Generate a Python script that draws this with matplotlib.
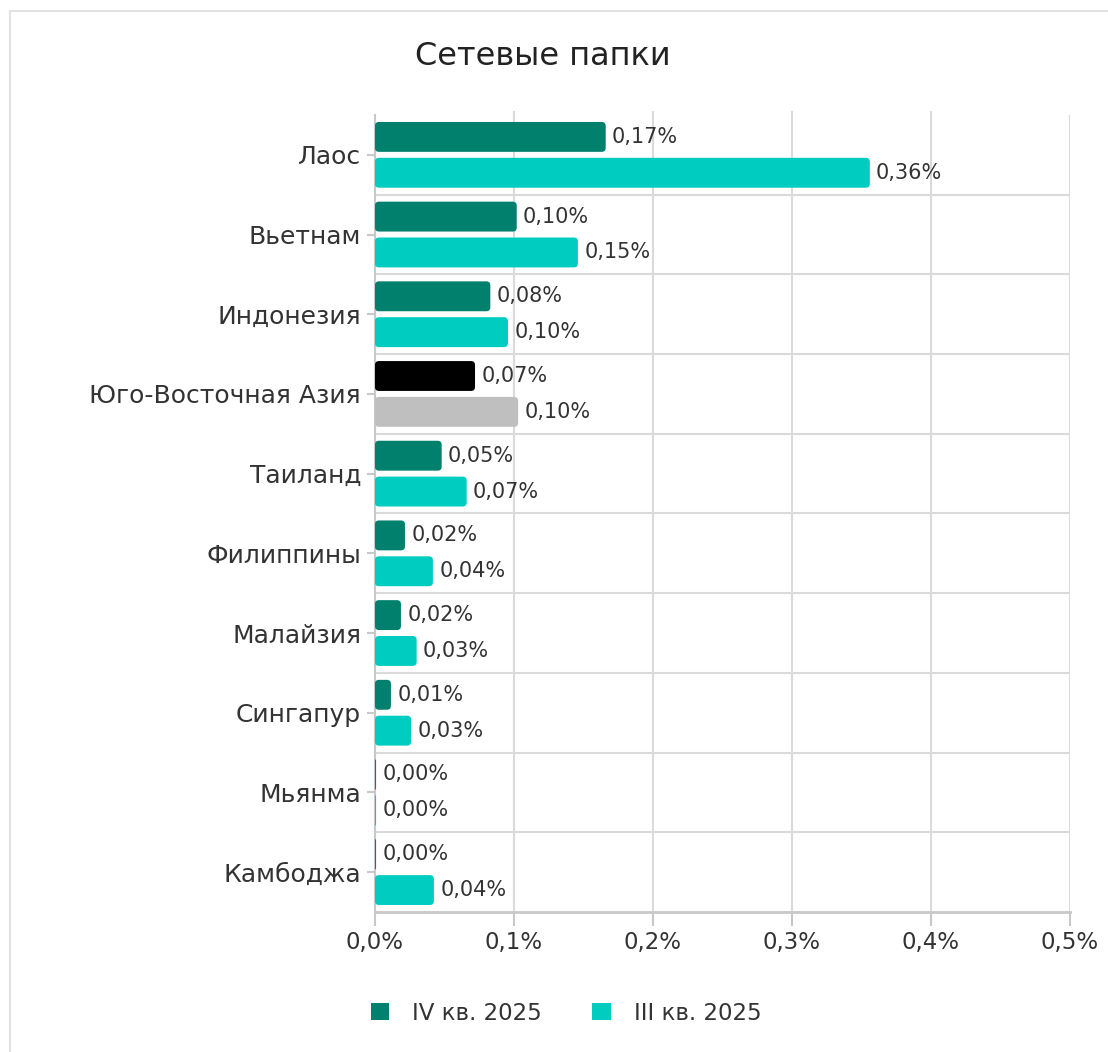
import numpy as np
import matplotlib.pyplot as plt
from matplotlib.patches import FancyBboxPatch, Patch, Rectangle

plt.rcParams['font.family'] = ['DejaVu Sans']

# data (share of users, %)
countries = ['Лаос', 'Вьетнам', 'Индонезия', 'Юго-Восточная Азия', 'Таиланд',
             'Филиппины', 'Малайзия', 'Сингапур', 'Мьянма', 'Камбоджа']
q4_2025 = [0.166, 0.102, 0.083, 0.072, 0.048, 0.0216, 0.0187, 0.0115, 0.0, 0.0]
q3_2025 = [0.356, 0.146, 0.0957, 0.103, 0.066, 0.0417, 0.030, 0.026, 0.0, 0.0424]
series_names = ['IV кв. 2025', 'III кв. 2025']
xticks = [0.0, 0.1, 0.2, 0.3, 0.4, 0.5]

c_dark = '#00806D'
c_light = '#00CCBF'
c_region_dark = '#000000'
c_region_light = '#BFBFBF'
txt = '#333333'
grid = '#DADADA'

fig = plt.figure(figsize=(11.08, 10.52), dpi=100)
ax = fig.add_axes([0.3384, 0.1331, 0.6273, 0.7576])

# light frame around the card
fig.patches.append(Rectangle((10/1108, -0.05), 1.2, 1 - 11/1052 + 0.05,
                             transform=fig.transFigure, fill=False,
                             edgecolor='#E3E3E3', lw=1.5, zorder=0))

y = np.arange(len(countries))
h = 0.375
off = 0.225
min_w = 0.0008  # so zero bars still show as a hairline

cols4 = [c_region_dark if c == 'Юго-Восточная Азия' else c_dark for c in countries]
cols3 = [c_region_light if c == 'Юго-Восточная Азия' else c_light for c in countries]

b4 = ax.barh(y - off, np.maximum(q4_2025, min_w), height=h, color=cols4)
b3 = ax.barh(y + off, np.maximum(q3_2025, min_w), height=h, color=cols3)

ax.set_xlim(0, 0.5)
ax.set_ylim(len(countries) - 0.5, -0.5)

# swap rectangles for rounded ones
px_x = 0.5 / 695.0
px_y = len(countries) / 797.0
for bars in (b4, b3):
    for p in bars:
        x0, y0 = p.get_x(), p.get_y()
        w, hh = p.get_width(), p.get_height()
        r = min(4 * px_x, w / 2)
        fb = FancyBboxPatch((x0, y0), w, hh,
                            boxstyle='round,pad=0,rounding_size=%f' % r,
                            mutation_aspect=px_y / px_x,
                            facecolor=p.get_facecolor(), edgecolor='none', zorder=3)
        p.set_visible(False)
        ax.add_patch(fb)

def fmt(v):
    return ('%.2f%%' % v).replace('.', ',')

for vals, dy in ((q4_2025, -off), (q3_2025, off)):
    for i, v in enumerate(vals):
        ax.text(max(v, min_w) + 0.0045, i + dy, fmt(v), va='center', ha='left',
                fontsize=15, color=txt, zorder=4)

# grid
for xv in xticks[1:-1]:
    ax.axvline(xv, color=grid, lw=1.5, zorder=1, ymax=1.004, clip_on=False)
ax.axvline(0.5, color=grid, lw=1.5, zorder=1)
for yb in np.arange(0.5, len(countries) - 0.5, 1):
    ax.axhline(yb, color=grid, lw=1.5, zorder=1)

ax.set_xticks(xticks)
ax.set_xticklabels([('%.1f%%' % t).replace('.', ',') for t in xticks],
                   fontsize=16.5, color=txt)
ax.set_yticks(y)
ax.set_yticklabels(countries, fontsize=18, color=txt)
ax.tick_params(axis='x', length=10, width=1.5, color='#C8C8C8', pad=4)
ax.tick_params(axis='y', length=6, width=1.5, color='#C8C8C8', pad=4)

for s in ('top', 'right'):
    ax.spines[s].set_visible(False)
ax.spines['bottom'].set_color('#C8C8C8')
ax.spines['bottom'].set_linewidth(2)
ax.spines['left'].set_color('#C8C8C8')
ax.spines['left'].set_linewidth(1.5)
ax.spines['bottom'].set_zorder(5)

fig.text(0.490, 0.946, 'Сетевые папки', ha='center', va='center',
         fontsize=23, color='#222222')

handles = [Patch(facecolor=c_dark), Patch(facecolor=c_light)]
fig.legend(handles, series_names, loc='center', bbox_to_anchor=(0.511, 0.037),
           ncol=2, frameon=False, fontsize=16.5, handlelength=0.8, handleheight=0.8,
           columnspacing=2.2, handletextpad=1.0, labelcolor=txt)

fig.savefig('out.png', dpi=100, facecolor='white')
